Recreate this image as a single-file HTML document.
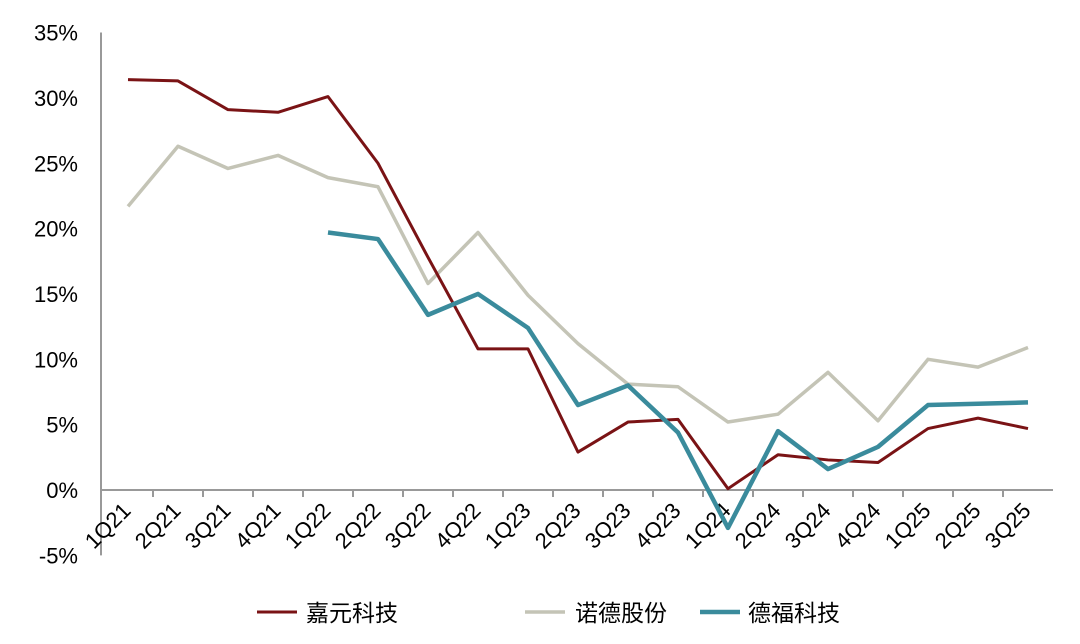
<!DOCTYPE html>
<html><head><meta charset="utf-8"><style>
body{margin:0;background:#fff}
svg{display:block;font-family:"Liberation Sans","Noto Sans CJK SC",sans-serif}
</style></head><body>
<svg id="chart" width="1080" height="644" viewBox="0 0 1080 644"></svg>
<script>
const categories=["1Q21","2Q21","3Q21","4Q21","1Q22","2Q22","3Q22","4Q22","1Q23","2Q23","3Q23","4Q23","1Q24","2Q24","3Q24","4Q24","1Q25","2Q25","3Q25"];
const jiayuan=[31.4,31.3,29.1,28.9,30.1,25.0,17.8,10.8,10.8,2.9,5.2,5.4,0.1,2.7,2.3,2.1,4.7,5.5,4.7];
const nuode=[21.7,26.3,24.6,25.6,23.9,23.2,15.8,19.7,14.9,11.2,8.1,7.9,5.2,5.8,9.0,5.3,10.0,9.4,10.9];
const defu=[null,null,null,null,19.7,19.2,13.4,15.0,12.4,6.5,8.0,4.4,-2.9,4.5,1.6,3.3,6.5,6.6,6.7];
const yTicks=[35,30,25,20,15,10,5,0,-5];
const seriesNames=["嘉元科技","诺德股份","德福科技"];
const NS="http://www.w3.org/2000/svg";
const svg=document.getElementById('chart');
const x0=103,step=50,axisX=101;
function xs(i){return x0+step/2+step*i;}
function ys(v){return 490-v*13.07;}
function mk(t,a,p){const e=document.createElementNS(NS,t);for(const k in a)e.setAttribute(k,a[k]);(p||svg).appendChild(e);return e;}
let ya=mk('line',{x1:axisX,y1:ys(35),x2:axisX,y2:ys(-5),stroke:'#999','stroke-width':2});


yTicks.forEach(v=>{
  const t=mk('text',{x:78,y:ys(v)+8,'text-anchor':'end','font-size':22,fill:'#000'});
  t.textContent=v+'%';
  
  
});
let xa=mk('line',{x1:axisX,y1:ys(0),x2:x0+step*categories.length,y2:ys(0),stroke:'#999','stroke-width':2});


categories.forEach((c,i)=>{
  if(i>0){const tk=mk('line',{x1:x0+step*i,y1:ys(0),x2:x0+step*i,y2:ys(0)+7,stroke:'#999','stroke-width':2});
  
  }
  const cx=xs(i)+4,cy=512;
  const t=mk('text',{x:cx,y:cy,'text-anchor':'end','font-size':22,fill:'#000',transform:`rotate(-45 ${cx} ${cy})`});
  t.textContent=c;
  
  
});
function drawLine(data,color,w,name){
  let d='',started=false;
  data.forEach((v,i)=>{if(v===null)return;d+=(started?'L':'M')+xs(i)+' '+ys(v);started=true;});
  const p=mk('path',{d:d,fill:'none',stroke:color,'stroke-width':w,'stroke-linejoin':'round'});
  
  
}
drawLine(nuode,'#c4c4b6',3.5,'series-nuode');
drawLine(jiayuan,'#7a1315',3,'series-jiayuan');
drawLine(defu,'#3a8b9c',4.5,'series-defu');
const lg=[[257,306,'#7a1315',3],[525,575,'#c4c4b6',3.5],[700,748,'#3a8b9c',4.5]];
lg.forEach((l,i)=>{
  const g=mk('g',{});
  
  
  mk('line',{x1:l[0],y1:612,x2:l[0]+40,y2:612,stroke:l[2],'stroke-width':l[3]},g);
  const t=mk('text',{x:l[1],y:621,'font-size':23,fill:'#000'},g);
  t.textContent=seriesNames[i];
});
</script>
</body></html>
